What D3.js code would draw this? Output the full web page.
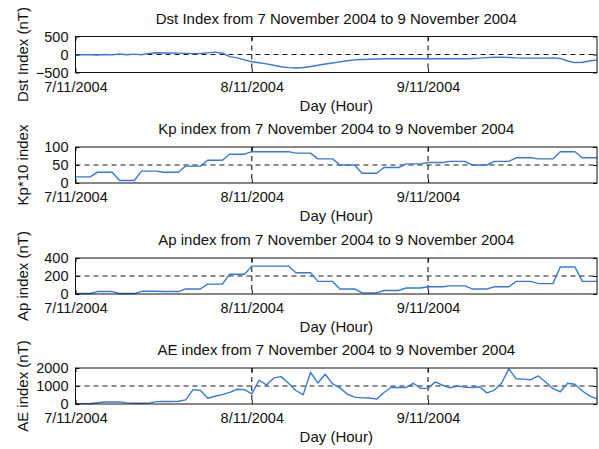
<!DOCTYPE html>
<html>
<head>
<meta charset="utf-8">
<script src="https://cdn.jsdelivr.net/npm/d3@7"></script>
<style>
  body { margin: 0; background: #fff; }
  svg { display: block; }
  text { font-family: "Liberation Sans", Arial, sans-serif; fill: #111; }
</style>
</head>
<body>
<svg id="chart" width="599" height="449"></svg>
<script>
// Hourly geomagnetic indices, 00 UT 7 Nov 2004 (hour 0) to 23 UT 9 Nov 2004 (hour 71)
const hours = d3.range(72);
const dayTicks = [0, 24, 48];
const dayLabels = ["7/11/2004", "8/11/2004", "9/11/2004"];

const dst = [
  -10, -8, -5, -12, 2, -10, 12, -5, 10, -8, 30, 48,
  40, 45, 38, 30, 25, 28, 45, 65, 35, -60, -95, -150,
  -200, -230, -260, -300, -340, -365, -373, -360, -335, -300, -265, -235,
  -205, -175, -150, -140, -130, -125, -120, -118, -118, -118, -118, -118,
  -120, -120, -118, -115, -118, -120, -112, -100, -88, -78, -72, -85,
  -95, -100, -100, -102, -100, -95, -110, -180, -225, -215, -180, -150
];

const kp10 = [
  17, 17, 17, 30, 30, 30, 7, 7, 7, 33, 33, 33,
  30, 30, 30, 47, 47, 47, 63, 63, 63, 80, 80, 80,
  87, 87, 87, 87, 87, 87, 83, 83, 83, 67, 67, 67,
  50, 50, 50, 27, 27, 27, 43, 43, 43, 53, 53, 53,
  57, 57, 57, 60, 60, 60, 50, 50, 50, 60, 60, 60,
  70, 70, 70, 67, 67, 67, 87, 87, 87, 70, 70, 70
];

const ap = [
  6, 6, 6, 27, 27, 27, 5, 5, 5, 30, 30, 30,
  27, 27, 27, 56, 56, 56, 110, 110, 110, 220, 220, 220,
  310, 310, 310, 310, 310, 310, 236, 236, 236, 140, 140, 140,
  56, 56, 56, 12, 12, 12, 39, 39, 39, 67, 67, 67,
  80, 80, 80, 90, 90, 90, 56, 56, 56, 80, 80, 80,
  140, 140, 140, 115, 115, 115, 300, 300, 300, 140, 140, 140
];

const ae = [
  20, 20, 30, 70, 110, 120, 115, 60, 40, 40, 50, 130,
  140, 140, 150, 230, 800, 760, 320, 430, 520, 650, 820, 800,
  560, 1320, 1060, 1450, 1520, 1150, 750, 520, 1750, 1170, 1650, 1120,
  900, 550, 380, 340, 330, 270, 640, 930, 920, 920, 1150, 860,
  880, 1230, 1040, 900, 1000, 940, 920, 960, 620, 760, 1150, 1950,
  1400, 1380, 1350, 1560, 1220, 850, 680, 1150, 1100, 720, 450, 280
];

const titles = [
  "Dst Index from 7 November 2004 to 9 November 2004",
  "Kp index from 7 November 2004 to 9 November 2004",
  "Ap index from 7 November 2004 to 9 November 2004",
  "AE index from 7 November 2004 to 9 November 2004"
];
const yLabels = ["Dst Index (nT)", "Kp*10 index", "Ap index (nT)", "AE index (nT)"];
const yDomains = [[-500, 500], [0, 100], [0, 400], [0, 2000]];
const yTickValues = [[-500, 0, 500], [0, 50, 100], [0, 200, 400], [0, 1000, 2000]];
const xLabel = "Day (Hour)";

const panels = [dst, kp10, ap, ae].map((values, i) => ({
  values, title: titles[i], ylabel: yLabels[i], domain: yDomains[i], ticks: yTickValues[i]
}));

// layout
const left = 75.5, right = 597, plotH = 36;
const tops = [36.5, 147, 258, 368];
const lineColor = "#3779d6";

const svg = d3.select("#chart");
const x = d3.scaleLinear().domain([0, 71]).range([left, right]);

panels.forEach((p, i) => {
  const g = svg.append("g").attr("transform", `translate(0,${tops[i]})`);
  const y = d3.scaleLinear().domain(p.domain).range([plotH, 0]);

  // dashed grid: day boundaries and mid-range level
  g.selectAll("line.vgrid").data(dayTicks.slice(1)).join("line")
    .attr("x1", d => x(d)).attr("x2", d => x(d))
    .attr("y1", 0).attr("y2", plotH)
    .attr("stroke", "#1a1a1a").attr("stroke-width", 1.1).attr("stroke-dasharray", "5,4");
  g.selectAll("line.hgrid").data([p.ticks[1]]).join("line")
    .attr("x1", left).attr("x2", right)
    .attr("y1", d => y(d)).attr("y2", d => y(d))
    .attr("stroke", "#1a1a1a").attr("stroke-width", 1.1).attr("stroke-dasharray", "5,4");

  // index curve
  g.append("path")
    .datum(hours)
    .attr("fill", "none")
    .attr("stroke", lineColor)
    .attr("stroke-width", 1.4)
    .attr("stroke-linejoin", "round")
    .attr("d", d3.line().x(h => x(h)).y(h => y(p.values[h])));

  // axes with inward ticks
  const bottom = g.append("g").attr("transform", `translate(0,${plotH})`)
    .call(d3.axisBottom(x).tickValues(dayTicks).tickFormat((d, k) => dayLabels[k])
      .tickSize(-4).tickPadding(9));
  const top = g.append("g")
    .call(d3.axisTop(x).tickValues(dayTicks).tickFormat("").tickSize(-4));
  const leftAx = g.append("g").attr("transform", `translate(${left},0)`)
    .call(d3.axisLeft(y).tickValues(p.ticks).tickFormat(d3.format("d")).tickSize(-4).tickPadding(7));
  const rightAx = g.append("g").attr("transform", `translate(${right},0)`)
    .call(d3.axisRight(y).tickValues(p.ticks).tickFormat("").tickSize(-4));
  [bottom, top, leftAx, rightAx].forEach(a => {
    a.select(".domain").remove();
    a.selectAll("line").attr("stroke", "#111");
    a.selectAll("text").attr("font-size", 14.5).attr("font-family", "Liberation Sans, Arial, sans-serif").attr("fill", "#111");
  });

  // frame
  g.append("rect")
    .attr("x", left).attr("y", 0).attr("width", right - left).attr("height", plotH)
    .attr("fill", "none").attr("stroke", "#111").attr("stroke-width", 1);

  // title and labels
  g.append("text").attr("x", (left + right) / 2).attr("y", -13)
    .attr("text-anchor", "middle").attr("font-size", 15).text(p.title);
  g.append("text").attr("x", (left + right) / 2).attr("y", plotH + 38)
    .attr("text-anchor", "middle").attr("font-size", 15).text(xLabel);
  g.append("text")
    .attr("transform", `translate(22,${plotH / 2}) rotate(-90)`)
    .attr("text-anchor", "middle").attr("dominant-baseline", "central")
    .attr("font-size", 15).text(p.ylabel);
});
</script>
</body>
</html>
